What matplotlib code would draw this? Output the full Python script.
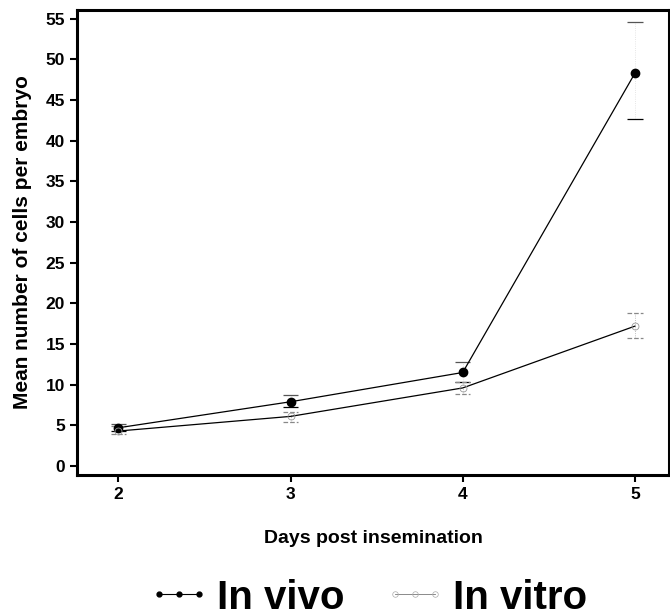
import matplotlib.pyplot as plt

plt.rcParams['font.family'] = ['Liberation Sans', 'DejaVu Sans']
plt.rcParams['font.weight'] = 'bold'

days = [2, 3, 4, 5]
in_vivo = [4.7, 7.9, 11.5, 48.3]
in_vivo_hi = [5.2, 8.7, 12.8, 54.6]
in_vivo_lo = [4.3, 7.2, 10.3, 42.7]
in_vitro = [4.3, 6.1, 9.6, 17.2]
in_vitro_hi = [4.9, 6.7, 10.3, 18.8]
in_vitro_lo = [3.9, 5.4, 8.8, 15.7]

fig = plt.figure(figsize=(6.7, 6.16), dpi=100)
ax = fig.add_axes([0.115, 0.229, 0.884, 0.755])

# error bars (caps only, faint stems)
w = 0.045
ax.vlines(days, in_vivo_lo, in_vivo_hi, color='#dddddd', lw=0.6, linestyles=':')
ax.hlines(in_vivo_hi, [d - w for d in days], [d + w for d in days], color='#555555', lw=0.9)
ax.hlines(in_vivo_lo, [d - w for d in days], [d + w for d in days], color='black', lw=0.9)
ax.vlines(days, in_vitro_lo, in_vitro_hi, color='#aaaaaa', lw=0.6, linestyles=':')
ax.hlines(in_vitro_hi, [d - w for d in days], [d + w for d in days], color='#888888', lw=0.9, linestyles='--')
ax.hlines(in_vitro_lo, [d - w for d in days], [d + w for d in days], color='#888888', lw=0.9, linestyles='--')

ax.plot(days, in_vivo, color='black', lw=0.9, marker='o', ms=6, mfc='black', mec='black')
ax.plot(days, in_vitro, color='black', lw=0.9, marker='o', ms=5, mfc='none', mec='#999999', mew=0.6)

ax.set_xlim(1.76, 5.2)
ax.set_ylim(-1.1, 56.1)
ax.set_xticks(days)
ax.set_yticks(range(0, 56, 5))
ax.tick_params(labelsize=12.5, width=1.5, length=5, direction='out')
for s in ax.spines.values():
    s.set_linewidth(2.2)

ax.set_xlabel('Days post insemination', fontsize=14, fontweight='bold', labelpad=20)
ax.set_ylabel('Mean number of cells per embryo', fontsize=15, fontweight='bold', labelpad=10)

# legend handles: small markers like the original
h1, = ax.plot([], [], color='black', lw=0.8, marker='o', ms=3.5, mfc='black', mec='black')
h2, = ax.plot([], [], color='#777777', lw=0.6, marker='o', ms=4, mfc='none', mec='#aaaaaa', mew=0.5)

fig.legend(handles=[h1, h2], labels=['In vivo', 'In vitro'], loc='center',
           bbox_to_anchor=(0.548, 0.03), ncol=2, frameon=False, numpoints=3,
           handlelength=1.6, columnspacing=0.95, handletextpad=0.15,
           prop={'size': 29, 'weight': 'bold'})

plt.savefig('out.png')
